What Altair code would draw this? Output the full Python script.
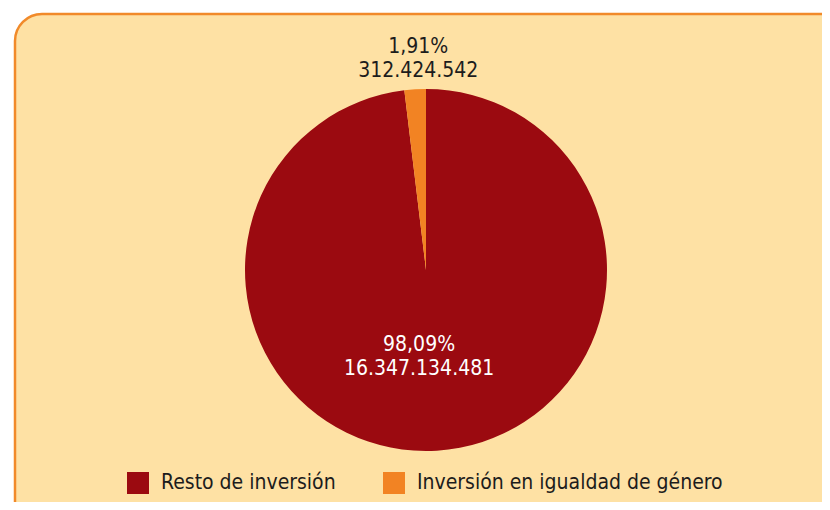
import altair as alt
import pandas as pd

# ---- data ----
categories = ["Resto de inversión", "Inversión en igualdad de género"]
percentages = [98.09, 1.91]
pct_text = ["98,09%", "1,91%"]
amount_text = ["16.347.134.481", "312.424.542"]
slice_order = [0, 1]

colors = ["#9B0A10", "#F28323"]
FONT = "DejaVu Sans Condensed"
TEXT_DARK = "#1c1c1c"

df = pd.DataFrame({
    "cat": categories,
    "pct": percentages,
    "idx": slice_order,
    "label": [p + "\n" + a for p, a in zip(pct_text, amount_text)],
})

W, H = 807, 488
CX, CY = 411, 256

# rounded panel behind the pie (extends past the right/bottom edges, clipped like the reference)
panel = alt.Chart(pd.DataFrame({"k": [0]})).mark_rect(
    fill="#FEE1A4", stroke="#F18A2A", strokeWidth=2.5, cornerRadius=27
).encode(
    x=alt.value(0), x2=alt.value(W + 30), y=alt.value(0), y2=alt.value(H + 30)
)

base = alt.Chart(df).encode(
    theta=alt.Theta("pct:Q", stack=True),
    order=alt.Order("idx:Q"),
)

pie = base.mark_arc(outerRadius=181, strokeWidth=0).encode(
    color=alt.Color(
        "cat:N",
        scale=alt.Scale(domain=categories, range=colors),
        legend=alt.Legend(
            title=None,
            orient="none",
            legendX=112,
            legendY=458,
            direction="horizontal",
            symbolType="square",
            symbolSize=484,
            symbolStrokeWidth=0,
            symbolOpacity=1,
            labelFont=FONT,
            labelFontSize=21,
            labelColor=TEXT_DARK,
            labelOffset=12,
            labelLimit=0,
            columnPadding=47,
            padding=0,
        ),
    ),
    x=alt.value(CX),
    y=alt.value(CY),
)

small_lbl = base.transform_calculate(
    t="datum.idx == 1 ? datum.label : ''"
).mark_text(
    radius=212, dx=5, dy=-11, font=FONT, fontSize=21, lineBreak="\n", lineHeight=24,
    color=TEXT_DARK, align="center", baseline="middle",
).encode(text="t:N", x=alt.value(CX), y=alt.value(CY))

big_lbl = base.transform_calculate(
    t="datum.idx == 0 ? datum.label : ''"
).mark_text(
    radius=85, dx=-12, dy=-10, font=FONT, fontSize=21, lineBreak="\n", lineHeight=24,
    color="#ffffff", align="center", baseline="middle",
).encode(text="t:N", x=alt.value(CX), y=alt.value(CY))

chart = alt.layer(panel, pie, small_lbl, big_lbl).properties(
    width=W,
    height=H,
    autosize="none",
    padding={"left": 7, "top": 6, "right": 0, "bottom": 0},
    background="white",
).configure_view(
    stroke=None,
)

chart.save("out.html", embed_options={"renderer": "svg", "actions": False})
